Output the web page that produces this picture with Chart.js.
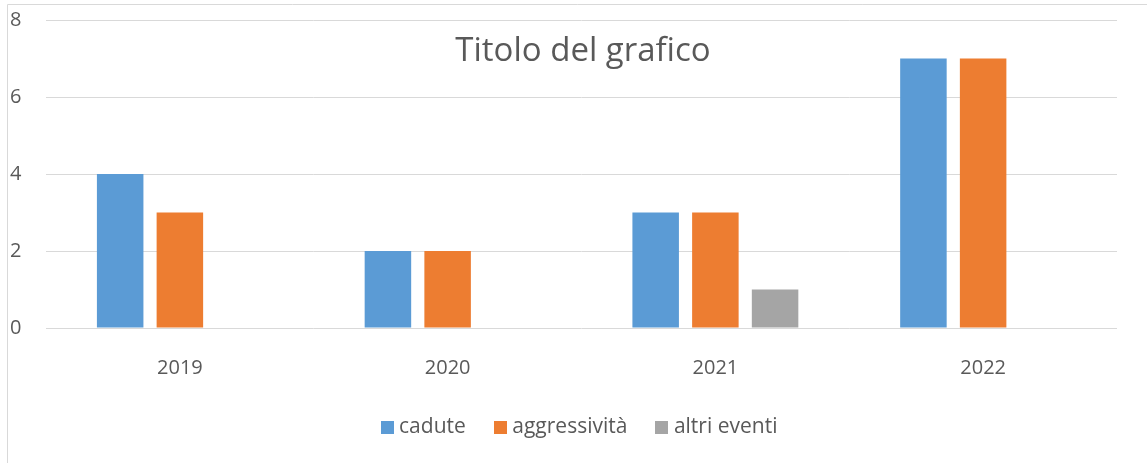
<!DOCTYPE html>
<html><head><meta charset="utf-8">
<script src="https://cdn.jsdelivr.net/npm/chart.js@4.4.1/dist/chart.umd.min.js"></script>
<style>html,body{margin:0;padding:0;background:#fff;overflow:hidden}canvas{display:block}</style>
</head><body>
<canvas id="c" width="1147" height="463"></canvas>
<script>
const categories = ['2019', '2020', '2021', '2022'];
const seriesNames = ['cadute', 'aggressività', 'altri eventi'];
const cadute = [4, 2, 3, 7];
const aggressivita = [3, 2, 3, 7];
const altriEventi = [0, 0, 1, 0];
const yTicks = [0, 2, 4, 6, 8];
const chartTitle = 'Titolo del grafico';

const colors = ['#5B9BD5', '#ED7D31', '#A5A5A5'];
const textColor = '#595959';
const gridColor = '#D9D9D9';
const FONT = '"Open Sans", "DejaVu Sans", sans-serif';

function square(color) {
  const c = document.createElement('canvas');
  c.width = 13; c.height = 13;
  const x = c.getContext('2d');
  x.fillStyle = color; x.fillRect(0, 0, 13, 13);
  return c;
}
const legendSquares = colors.map(square);

const frame = {
  id: 'frame',
  beforeDraw(chart) {
    const ctx = chart.ctx;
    ctx.save();
    ctx.strokeStyle = gridColor;
    ctx.lineWidth = 1;
    ctx.beginPath();
    ctx.moveTo(7.5, chart.height);
    ctx.lineTo(7.5, 4.5);
    ctx.lineTo(chart.width, 4.5);
    ctx.stroke();
    ctx.restore();
  }
};
const overlayTitle = {
  id: 'overlayTitle',
  afterDatasetsDraw(chart) {
    const ctx = chart.ctx, a = chart.chartArea;
    ctx.save();
    ctx.fillStyle = textColor;
    ctx.font = '33px ' + FONT;
    ctx.textAlign = 'center';
    ctx.textBaseline = 'alphabetic';
    ctx.fillText(chartTitle, (a.left + a.right) / 2 + 1.5, 61);
    ctx.restore();
  }
};

const seriesValues = [cadute, aggressivita, altriEventi];
new Chart(document.getElementById('c'), {
  type: 'bar',
  data: {
    labels: categories,
    datasets: seriesNames.map((name, i) => ({
      label: name,
      data: seriesValues[i],
      backgroundColor: colors[i],
      borderWidth: 0,
      categoryPercentage: 0.669,
      barPercentage: 0.779
    }))
  },
  options: {
    responsive: false,
    animation: false,
    layout: { padding: { left: 10, right: 30, top: 20, bottom: 15 } },
    plugins: {
      title: { display: false },
      tooltip: { enabled: false },
      legend: {
        position: 'bottom',
        fullSize: false,
        labels: {
          usePointStyle: true,
          pointStyleWidth: 3,
          boxHeight: 13,
          padding: 33,
          color: textColor,
          font: { family: FONT, size: 21 },
          generateLabels: (chart) => Chart.defaults.plugins.legend.labels.generateLabels(chart)
            .map((l, i) => Object.assign(l, { pointStyle: legendSquares[i] }))
        }
      }
    },
    scales: {
      x: {
        grid: { display: false },
        border: { display: false },
        ticks: { color: textColor, font: { family: FONT, size: 20 }, padding: 20 },
        afterFit: (s) => { s.height = 56; }
      },
      y: {
        min: 0, max: 8,
        afterBuildTicks: (s) => { s.ticks = yTicks.map(v => ({ value: v })); },
        grid: { color: gridColor, lineWidth: 1, drawTicks: false },
        border: { display: false },
        ticks: { color: textColor, font: { family: FONT, size: 20 }, crossAlign: 'far', padding: 0 },
        afterFit: (s) => { s.width = 36; }
      }
    }
  },
  plugins: [frame, overlayTitle]
});
</script>
</body></html>
